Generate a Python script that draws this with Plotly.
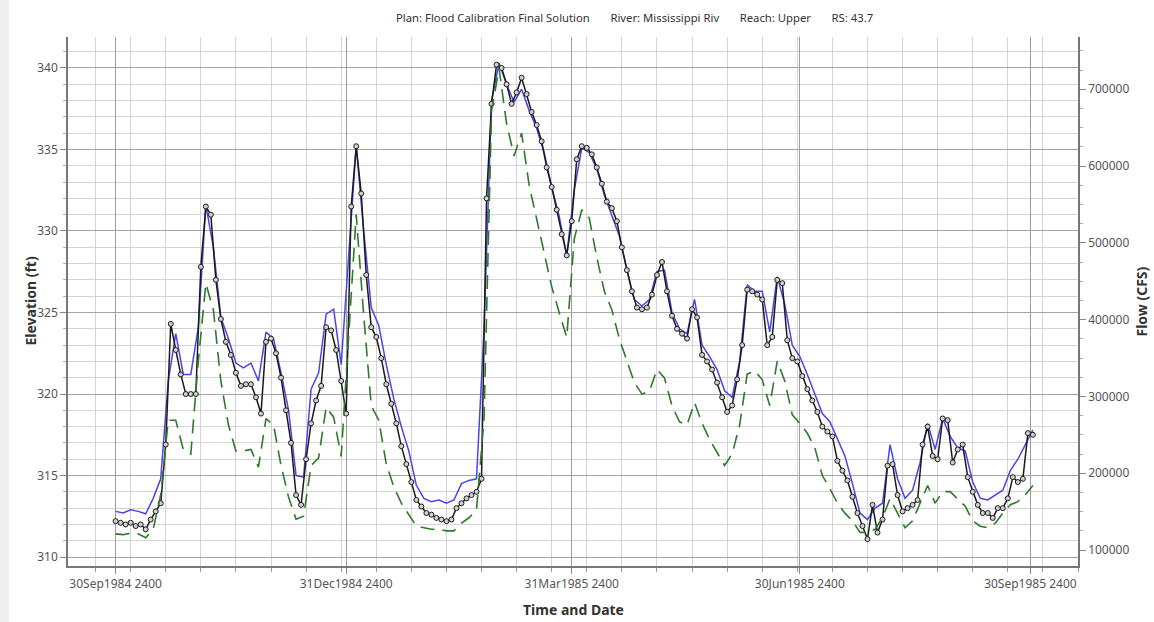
import pandas as pd
import plotly.graph_objects as go

# ---------------- data ----------------
obs_start = "1984-10-01"   # 30Sep1984 2400, step 2 days
obs_stage = [
    312.2, 312.1, 312.0, 312.1, 311.9, 312.0, 311.7, 312.3, 312.8, 313.3,
    316.9, 324.3, 322.7, 321.2, 320.0, 320.0, 320.0, 327.8, 331.5, 331.0,
    327.0, 324.6, 323.2, 322.4, 321.3, 320.5, 320.6, 320.6, 319.8, 318.8,
    323.2, 323.4, 322.5, 321.0, 319.0, 317.0, 313.8, 313.2, 316.0, 318.2,
    319.6, 320.5, 324.1, 323.9, 322.7, 320.8, 318.8, 331.5, 335.2, 332.3,
    327.3, 324.1, 323.5, 322.2, 320.6, 319.4, 318.2, 316.8, 315.7, 314.6,
    313.5, 313.1, 312.7, 312.6, 312.4, 312.3, 312.2, 312.3, 313.0, 313.3,
    313.6, 313.8, 314.0, 314.8, 332.0, 337.8, 340.2, 340.0, 339.0, 337.8,
    338.5, 339.4, 338.4, 337.3, 336.5, 335.5, 333.9, 332.7, 331.3, 329.8,
    328.5, 330.6, 334.4, 335.2, 335.1, 334.7, 333.9, 332.9, 331.8, 331.4,
    330.6, 329.0, 327.6, 326.3, 325.3, 325.2, 325.3, 326.1, 327.3, 328.1,
    326.3, 324.8, 324.0, 323.7, 323.4, 325.2, 324.7, 322.4, 322.0, 321.5,
    320.7, 319.8, 318.9, 319.3, 320.9, 323.0, 326.4, 326.3, 326.1, 325.8,
    323.0, 323.5, 327.0, 326.8, 323.3, 322.2, 322.0, 321.1, 320.3, 319.6,
    318.9, 318.0, 317.7, 317.4, 315.9, 315.3, 314.7, 313.7, 312.7, 311.9,
    311.1, 313.2, 311.5, 312.3, 315.6, 315.7, 313.8, 312.8, 313.0, 313.2,
    313.5, 316.9, 318.0, 316.2, 316.0, 318.5, 318.4, 315.8, 316.6, 316.9,
    314.9, 314.0, 313.2, 312.7, 312.7, 312.4, 313.0, 313.0, 313.6, 314.9,
    314.6, 314.8, 317.6, 317.5,
]

sim_start = "1984-10-01"   # step 3 days
sim_stage = [
    312.8, 312.7, 312.9, 312.8, 312.65, 313.6, 314.8, 320.8, 323.7, 321.2,
    321.2, 324.1, 331.6, 329.0, 324.7, 323.4, 321.9, 321.6, 321.9, 320.8,
    323.8, 323.4, 321.3, 319.0, 315.0, 314.9, 320.3, 321.3, 324.9, 325.2,
    321.8, 328.5, 335.2, 330.0, 325.3, 324.2, 321.8, 319.7, 318.0, 316.5,
    314.4, 313.6, 313.4, 313.5, 313.3, 313.5, 314.5, 314.7, 314.8, 324.0,
    338.0, 340.3, 339.0, 337.9, 338.7, 337.4, 336.3, 334.8, 332.7, 330.9,
    328.5, 332.5, 335.1, 334.8, 333.8, 332.2, 331.0, 329.7, 327.6, 325.8,
    325.4, 325.8, 327.5, 327.6, 325.0, 324.0, 323.7, 325.8, 323.0, 322.3,
    321.5, 320.2, 319.8, 322.0, 326.7, 326.3, 326.3, 323.8, 327.2, 325.5,
    323.0, 322.3, 321.2, 320.0, 318.8, 318.3, 317.3, 316.2, 314.5, 312.7,
    312.3, 313.0, 313.3, 316.9, 314.8, 313.6, 314.1, 315.8, 318.2, 316.6,
    318.5, 317.4, 316.7, 316.5, 314.6, 313.6, 313.5, 313.8, 314.1, 315.3,
    316.0, 316.9, 317.8,
]

flow = [
    121000, 120000, 122000, 121000, 116000, 127000, 172000, 269000, 269000, 231000,
    225000, 346000, 447000, 413000, 320000, 263000, 229000, 229000, 231000, 208000,
    271000, 263000, 210000, 169000, 140000, 144000, 210000, 220000, 286000, 273000,
    222000, 377000, 537000, 405000, 288000, 269000, 212000, 182000, 161000, 146000,
    131000, 129000, 127000, 127000, 125000, 125000, 135000, 142000, 152000, 271000,
    672000, 727000, 655000, 613000, 643000, 575000, 532000, 490000, 443000, 409000,
    377000, 505000, 543000, 532000, 481000, 437000, 413000, 375000, 346000, 318000,
    303000, 307000, 335000, 324000, 288000, 267000, 263000, 292000, 265000, 244000,
    227000, 210000, 225000, 263000, 329000, 333000, 322000, 288000, 346000, 320000,
    276000, 265000, 252000, 233000, 197000, 180000, 161000, 148000, 138000, 123000,
    123000, 127000, 142000, 167000, 148000, 129000, 138000, 161000, 184000, 161000,
    176000, 176000, 167000, 157000, 138000, 131000, 129000, 135000, 148000, 159000,
    163000, 172000, 184000,
]

major_dates = ["1984-10-01", "1985-01-01", "1985-04-01", "1985-07-01", "1985-10-01"]
major_labels = ["30Sep1984 2400", "31Dec1984 2400", "31Mar1985 2400",
                "30Jun1985 2400", "30Sep1985 2400"]
GAP = "\u00a0" * 7
title_text = ("Plan: Flood Calibration Final Solution" + GAP + "River: Mississippi Riv"
              + GAP + "Reach: Upper" + GAP + "RS: 43.7")

obs_x = pd.date_range(obs_start, periods=len(obs_stage), freq="2D")
sim_x = pd.date_range(sim_start, periods=len(sim_stage), freq="3D")
flow_x = pd.date_range(sim_start, periods=len(flow), freq="3D")

FONT = "Noto Sans"

fig = go.Figure()
fig.add_trace(go.Scatter(x=flow_x, y=flow, yaxis="y2", mode="lines",
                         line=dict(color="#2f7a2a", width=1.6, dash="14px,8px"),
                         name="Flow"))
fig.add_trace(go.Scatter(x=sim_x, y=sim_stage, mode="lines",
                         line=dict(color="#4747e8", width=1.5), name="Stage"))
fig.add_trace(go.Scatter(x=obs_x, y=obs_stage, mode="lines+markers",
                         line=dict(color="#1a1a1a", width=1.5),
                         marker=dict(symbol="circle", size=5, color="#cfcfcf",
                                     line=dict(color="#1a1a1a", width=1)),
                         name="Obs Stage"))

fig.update_layout(
    width=1154, height=622,
    margin=dict(l=68, r=76, t=37, b=56),
    paper_bgcolor="white", plot_bgcolor="white",
    showlegend=False,
    font=dict(family=FONT, size=12, color="#555555"),
    xaxis=dict(
        type="date", range=["1984-09-12", "1985-10-20"],
        tickmode="array", tickvals=major_dates, ticktext=major_labels,
        showgrid=True, gridcolor="#9c9c9c", gridwidth=1,
        ticks="outside", ticklen=6, tickcolor="#888888",
        showline=True, linecolor="#777777", linewidth=1.5,
        tickfont=dict(size=12, color="#555555"),
        minor=dict(tick0="1984-09-23", dtick=14 * 86400000, showgrid=True,
                   gridcolor="#d4d4d4", gridwidth=1, ticks="outside", ticklen=4,
                   tickcolor="#999999"),
        zeroline=False,
    ),
    yaxis=dict(
        range=[309.45, 341.9], tick0=310, dtick=5,
        showgrid=True, gridcolor="#a4a4a4", gridwidth=1,
        ticks="outside", ticklen=6, tickcolor="#888888",
        showline=True, linecolor="#777777", linewidth=1.5,
        tickfont=dict(size=12, color="#555555"),
        minor=dict(dtick=1, showgrid=True, gridcolor="#d4d4d4", gridwidth=1,
                   ticks="outside", ticklen=3, tickcolor="#aaaaaa"),
        zeroline=False,
    ),
    yaxis2=dict(
        overlaying="y", side="right", range=[79200, 768000],
        tick0=0, dtick=100000, tickformat="d",
        showgrid=False, ticks="outside", ticklen=6, tickcolor="#888888",
        showline=True, linecolor="#777777", linewidth=1.5,
        tickfont=dict(size=12, color="#555555"),
        minor=dict(dtick=25000, ticks="outside", ticklen=3, tickcolor="#aaaaaa",
                   showgrid=False),
        zeroline=False,
    ),
    annotations=[
        dict(text=title_text, xref="paper", yref="paper", x=0.561, y=1.036,
             xanchor="center", yanchor="middle", showarrow=False,
             font=dict(family=FONT, size=11.3, color="#333333")),
        dict(text="Elevation (ft)", xref="paper", yref="paper", x=-0.0376, y=0.5,
             xanchor="center", yanchor="middle", textangle=-90, showarrow=False,
             font=dict(family=FONT, size=14, color="#333333", weight="bold")),
        dict(text="Flow (CFS)", xref="paper", yref="paper", x=1.0624, y=0.5,
             xanchor="center", yanchor="middle", textangle=-90, showarrow=False,
             font=dict(family=FONT, size=14, color="#333333", weight="bold")),
        dict(text="Time and Date", xref="paper", yref="paper", x=0.5, y=-0.0813,
             xanchor="center", yanchor="middle", showarrow=False,
             font=dict(family=FONT, size=14, color="#333333", weight="bold")),
    ],
    shapes=[
        dict(type="rect", xref="paper", yref="paper", x0=-0.0673, x1=-0.0584,
             y0=-0.106, y1=1.07, fillcolor="#efefef", line=dict(width=0),
             layer="below"),
    ],
)

fig.write_html("out.html",
               config={"displayModeBar": False},
               post_script="document.body.style.margin='0';document.body.style.overflow='hidden';")
